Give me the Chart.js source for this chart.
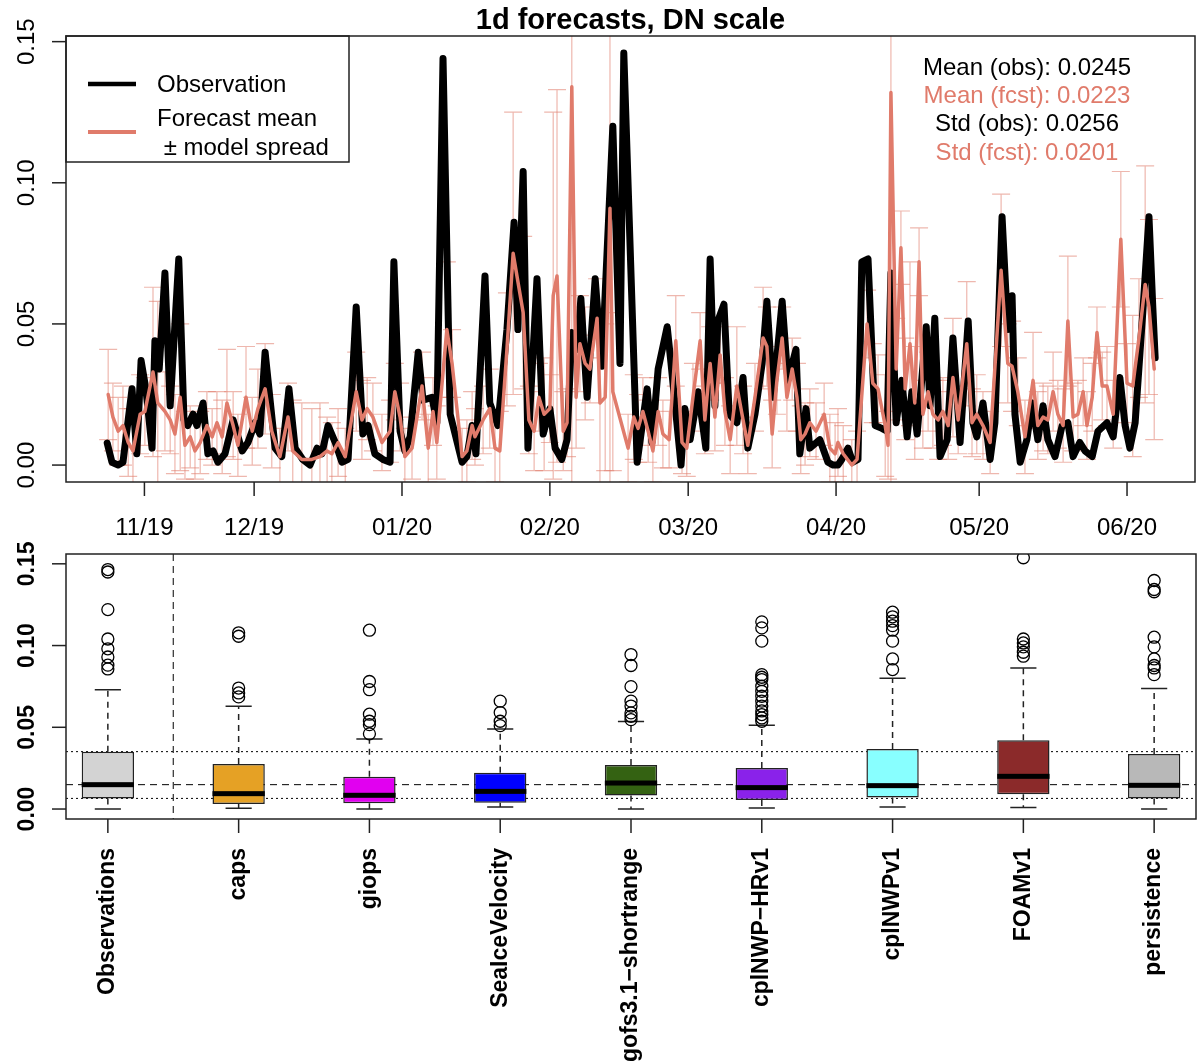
<!DOCTYPE html>
<html>
<head>
<meta charset="utf-8">
<script src="https://cdn.jsdelivr.net/npm/chart.js@4.4.1/dist/chart.umd.min.js"></script>
<style>
  body { margin: 0; background: #fff; }
  #topChart { position: absolute; left: 0; top: 0; }
  #boxChart { position: absolute; left: 0; top: 540px; }
</style>
</head>
<body>
<canvas id="topChart" width="1204" height="540"></canvas>
<canvas id="boxChart" width="1204" height="521"></canvas>
<script>
// ---- time series data (days relative to 2020-01-01) ----
const obsDay = [
  -61.8,-60.8,-59.5,-58.5,-56.6,-55.6,-54.7,-53.7,-52.4,-51.8,
  -50.9,-49.7,-48.6,-46.8,-45.7,-44.9,-43.8,-43.0,-41.7,-40.7,
  -39.6,-38.6,-37.1,-35.4,-33.5,-32.3,-30.8,-29.8,-28.7,-26.6,
  -25.2,-23.7,-22.4,-20.8,-19.3,-17.8,-16.8,-15.5,-14.0,-12.6,
  -11.3,-9.6,-8.2,-7.1,-5.7,-4.0,-2.5,-1.7,-0.4,0.6,
  1.7,3.4,4.4,6.3,7.3,8.6,10.1,12.6,13.6,14.7,
  15.5,17.4,18.4,20.1,22.0,23.5,24.3,25.4,26.4,28.3,
  29.6,31.0,32.1,33.5,34.6,35.6,36.7,37.5,38.8,40.5,
  41.9,44.2,45.7,46.5,49.3,51.4,52.4,53.7,55.6,56.4,
  58.5,59.3,60.4,62.1,63.7,64.6,65.6,66.2,67.5,68.6,
  70.2,71.5,72.5,74.0,75.5,76.5,77.8,79.7,80.9,82.6,
  83.4,84.7,85.5,87.6,89.3,90.4,91.4,92.2,93.5,94.5,
  95.6,96.4,97.7,99.2,100.6,101.7,102.5,103.6,104.8,105.9,
  106.9,108.0,109.9,110.7,111.7,112.8,114.3,115.5,117.0,118.7,
  119.7,120.5,121.8,123.3,124.3,125.8,127.0,127.9,128.5,129.6,
  131.0,132.1,133.3,134.4,135.4,136.9,138.4,139.6,140.7,142.1,
  143.2,144.7,145.9,147.8,149.1,150.5,151.6,152.6,153.7,155.3,
  156.6,157.4,157.9
];
const obsVal = [
  .0078,.001,.000,.001,.027,.004,.037,.027,.006,.044,
  .034,.068,.021,.073,.016,.014,.018,.014,.022,.004,
  .005,.001,.004,.016,.005,.008,.015,.011,.040,.006,
  .003,.027,.006,.002,.000,.006,.004,.014,.008,.001,
  .002,.056,.011,.014,.004,.002,.001,.072,.012,.005,
  .010,.040,.023,.024,.015,.144,.018,.001,.003,.014,
  .004,.067,.022,.014,.048,.086,.048,.104,.006,.066,
  .011,.020,.006,.002,.009,.047,.041,.059,.024,.066,
  .035,.120,.036,.146,.001,.027,.008,.034,.049,.036,
  .000,.020,.009,.026,.006,.073,.021,.051,.057,.018,
  .015,.031,.006,.018,.036,.058,.024,.058,.030,.041,
  .004,.020,.006,.009,.001,.000,.000,.002,.006,.001,
  .002,.072,.073,.014,.013,.012,.068,.015,.030,.010,
  .026,.011,.049,.021,.052,.003,.009,.045,.008,.051,
  .015,.010,.022,.002,.015,.088,.048,.060,.018,.001,
  .009,.022,.009,.021,.009,.003,.014,.015,.003,.008,
  .005,.003,.012,.015,.010,.031,.014,.006,.015,.054,
  .088,.056,.038
];
const fcstDay = [
  -61.6,-60.6,-59.5,-58.5,-57.4,-56.4,-54.9,-53.9,-52.2,-51.2,
  -49.7,-48.6,-47.6,-46.5,-45.5,-44.4,-43.4,-42.3,-40.9,-39.8,
  -38.8,-37.7,-36.7,-35.4,-34.4,-32.7,-31.4,-30.2,-28.7,-27.3,
  -25.6,-23.9,-22.9,-21.0,-18.9,-17.2,-15.7,-14.7,-13.4,-11.9,
  -9.6,-8.4,-7.3,-6.1,-4.2,-2.5,-1.5,-0.4,0.6,2.1,
  4.2,5.5,6.5,7.3,9.4,10.5,12.6,13.6,14.7,15.3,
  17.0,18.4,19.5,20.5,22.0,23.3,25.4,26.6,27.7,28.7,
  29.8,31.0,31.7,32.5,33.8,34.6,35.6,36.5,37.3,38.4,
  39.4,40.9,41.5,42.6,43.6,44.2,47.4,48.6,49.5,50.5,
  51.6,52.6,53.7,54.7,56.0,57.4,58.7,59.7,61.0,62.5,
  63.5,64.6,65.6,66.7,67.7,68.8,70.2,71.5,72.5,74.0,
  75.7,76.5,77.6,78.6,79.7,80.7,81.8,82.8,83.6,84.5,
  85.5,86.8,88.5,89.7,90.8,91.4,92.5,94.3,95.4,97.5,
  98.7,99.8,101.3,101.9,102.5,103.6,104.6,105.5,106.5,107.5,
  108.4,109.2,110.3,111.3,112.4,113.4,114.5,115.5,116.6,118.4,
  119.5,120.5,121.8,123.3,125.6,127.0,127.9,129.1,130.6,132.3,
  133.3,134.4,135.4,136.5,137.5,138.6,139.6,140.7,141.7,142.8,
  143.6,144.7,145.7,146.8,147.8,149.1,150.7,152.0,153.2,154.5,
  155.8,156.6,157.7
];
const fcstMean = [
  .025,.017,.012,.014,.008,.005,.018,.019,.033,.022,
  .019,.016,.011,.024,.007,.010,.005,.008,.014,.010,
  .015,.010,.022,.014,.007,.024,.012,.020,.027,.012,
  .003,.017,.005,.002,.002,.003,.005,.004,.008,.003,
  .026,.016,.020,.017,.008,.012,.026,.017,.003,.006,
  .028,.006,.019,.008,.048,.036,.003,.005,.014,.010,
  .016,.020,.006,.005,.041,.075,.054,.016,.012,.024,
  .018,.020,.060,.067,.012,.015,.134,.024,.043,.036,
  .034,.052,.022,.024,.091,.026,.006,.017,.013,.019,
  .012,.005,.019,.011,.009,.044,.008,.006,.024,.044,
  .016,.036,.017,.039,.019,.009,.028,.016,.007,.024,
  .045,.042,.011,.030,.045,.024,.034,.024,.009,.011,
  .015,.012,.018,.006,.004,.008,.004,.000,.002,.050,
  .029,.027,.014,.007,.132,.034,.077,.027,.043,.022,
  .072,.018,.026,.018,.016,.019,.014,.031,.016,.043,
  .015,.018,.014,.008,.069,.036,.035,.026,.010,.030,
  .014,.017,.016,.026,.018,.014,.051,.017,.018,.026,
  .014,.024,.047,.028,.028,.018,.080,.029,.028,.045,
  .064,.056,.034
];
const fcstSpread = [
  .016,.012,.012,.014,.012,.015,.014,.012,.030,.036,
  .014,.012,.014,.026,.012,.011,.010,.011,.012,.010,
  .011,.013,.019,.012,.011,.018,.012,.014,.016,.013,
  .010,.012,.018,.020,.018,.019,.012,.011,.012,.010,
  .014,.014,.011,.012,.010,.011,.010,.012,.010,.011,
  .012,.012,.012,.013,.024,.012,.010,.011,.012,.010,
  .012,.014,.012,.014,.020,.050,.027,.012,.014,.012,
  .020,.012,.065,.066,.014,.012,.150,.018,.017,.020,
  .012,.014,.030,.026,.110,.028,.012,.015,.012,.012,
  .011,.011,.012,.012,.010,.016,.011,.010,.012,.010,
  .012,.013,.012,.010,.012,.012,.021,.012,.010,.012,
  .018,.014,.012,.012,.011,.012,.011,.012,.012,.011,
  .012,.010,.011,.012,.011,.012,.010,.009,.010,.012,
  .014,.012,.018,.012,.150,.018,.013,.018,.029,.020,
  .012,.012,.014,.012,.014,.012,.012,.021,.012,.022,
  .012,.014,.012,.011,.027,.014,.016,.012,.013,.017,
  .012,.012,.012,.014,.012,.013,.023,.012,.012,.012,
  .012,.012,.009,.012,.014,.012,.024,.014,.025,.021,
  .042,.031,.025
];
const tickDays = [-54, -31, 0, 31, 60, 91, 121, 152];
const tickLabels = ['11/19', '12/19', '01/20', '02/20', '03/20', '04/20', '05/20', '06/20'];
const yTicks = [0, 0.05, 0.10, 0.15];
const statLines = ['Mean (obs): 0.0245', 'Mean (fcst): 0.0223', 'Std (obs): 0.0256', 'Std (fcst): 0.0201'];

// ---- box plot data ----
const models = ['Observations', 'caps', 'giops', 'SeaIceVelocity', 'gofs3.1\u2212shortrange',
  'cplNWP\u2212HRv1', 'cplNWPv1', 'FOAMv1', 'persistence'];
const boxLow = [0.000, 0.0004, 0.000, 0.0012, 0.000, 0.0006, 0.0012, 0.001, 0.000];
const boxQ1 = [0.0065, 0.003, 0.0035, 0.0039, 0.0082, 0.0055, 0.0071, 0.009, 0.0065];
const boxMed = [0.0149, 0.0094, 0.0084, 0.0108, 0.0159, 0.0131, 0.0143, 0.020, 0.0145];
const boxQ3 = [0.0351, 0.0276, 0.0198, 0.0222, 0.0269, 0.0251, 0.0367, 0.042, 0.0337];
const boxHigh = [0.073, 0.0629, 0.0429, 0.049, 0.0535, 0.0512, 0.080, 0.0863, 0.0737];
const outObs = [0.1465, 0.145, 0.122, 0.104, 0.098, 0.093, 0.088, 0.0857];
const outCaps = [0.1078, 0.1057, 0.074, 0.071, 0.0686];
const outGiops = [0.1094, 0.078, 0.073, 0.058, 0.0537, 0.0516, 0.046];
const outSiv = [0.066, 0.059, 0.0537, 0.051];
const outGofs = [0.0945, 0.0878, 0.0749, 0.066, 0.063, 0.0588, 0.0567, 0.0547];
const outHr = [0.1145, 0.1108, 0.1027, 0.0822, 0.0806, 0.0792, 0.0751, 0.072, 0.069, 0.066, 0.063, 0.060, 0.0578, 0.0557, 0.0537];
const outNwp = [0.1204, 0.1176, 0.1149, 0.1122, 0.1094, 0.1027, 0.0918, 0.0853];
const outFoam = [0.1537, 0.104, 0.1016, 0.0992, 0.0959, 0.0935];
const outPers = [0.1398, 0.1343, 0.1329, 0.1051, 0.0992, 0.0918, 0.0878, 0.0863, 0.0822];
const boxColors = ['#D3D3D3', '#E5A125', '#E100F0', '#0000FF', '#346212', '#8A22EA', '#88FFFF', '#8B2A2A', '#B8B8B8'];

const SALMON = '#E07B6B';
const FONT = '"Liberation Sans", Arial, Helvetica, sans-serif';

function rotText(ctx, text, x, y, align) {
  ctx.save();
  ctx.translate(x, y);
  ctx.rotate(-Math.PI / 2);
  ctx.textAlign = align;
  ctx.fillText(text, 0, 0);
  ctx.restore();
}

// error bars + axes + legend for the time series panel
const topDecor = {
  id: 'topDecor',
  beforeDatasetsDraw(chart) {
    const { ctx, chartArea: a, scales: { x, y } } = chart;
    ctx.save();
    ctx.beginPath();
    ctx.rect(a.left, a.top, a.right - a.left, a.bottom - a.top);
    ctx.clip();
    ctx.strokeStyle = 'rgba(224,123,107,0.55)';
    ctx.lineWidth = 1.2;
    for (let i = 0; i < fcstDay.length; i++) {
      const px = x.getPixelForValue(fcstDay[i]);
      const hi = y.getPixelForValue(fcstMean[i] + fcstSpread[i]);
      const lo = y.getPixelForValue(fcstMean[i] - fcstSpread[i]);
      ctx.beginPath();
      ctx.moveTo(px, hi); ctx.lineTo(px, lo);
      ctx.moveTo(px - 9, hi); ctx.lineTo(px + 9, hi);
      ctx.moveTo(px - 9, lo); ctx.lineTo(px + 9, lo);
      ctx.stroke();
    }
    ctx.restore();
  },
  afterDraw(chart) {
    const { ctx, chartArea: a, scales: { x, y } } = chart;
    ctx.save();
    ctx.strokeStyle = '#222';
    ctx.fillStyle = '#000';
    ctx.lineWidth = 1.5;
    ctx.strokeRect(a.left, a.top, a.right - a.left, a.bottom - a.top);

    ctx.font = '24px ' + FONT;
    ctx.textBaseline = 'alphabetic';
    yTicks.forEach(v => {
      const py = y.getPixelForValue(v);
      ctx.beginPath(); ctx.moveTo(a.left - 14, py); ctx.lineTo(a.left, py); ctx.stroke();
      rotText(ctx, v.toFixed(2), a.left - 32, py, 'center');
    });
    ctx.textAlign = 'center';
    ctx.textBaseline = 'middle';
    tickDays.forEach((d, i) => {
      const px = x.getPixelForValue(d);
      ctx.beginPath(); ctx.moveTo(px, a.bottom); ctx.lineTo(px, a.bottom + 14); ctx.stroke();
      ctx.fillText(tickLabels[i], px, a.bottom + 46);
    });

    // title
    ctx.font = 'bold 29px ' + FONT;
    ctx.fillText('1d forecasts, DN scale', (a.left + a.right) / 2, 21);

    // legend
    ctx.lineWidth = 1.5;
    ctx.strokeRect(a.left, a.top, 283, 126);
    ctx.lineCap = 'butt';
    ctx.lineWidth = 4.5;
    ctx.strokeStyle = '#000';
    ctx.beginPath(); ctx.moveTo(a.left + 22, a.top + 48); ctx.lineTo(a.left + 70, a.top + 48); ctx.stroke();
    ctx.lineWidth = 4;
    ctx.strokeStyle = SALMON;
    ctx.beginPath(); ctx.moveTo(a.left + 22, a.top + 96); ctx.lineTo(a.left + 70, a.top + 96); ctx.stroke();
    ctx.font = '24px ' + FONT;
    ctx.textAlign = 'left';
    ctx.fillStyle = '#000';
    ctx.fillText('Observation', a.left + 91, a.top + 49);
    ctx.fillText('Forecast mean', a.left + 91, a.top + 83);
    ctx.fillText(' \u00B1 model spread', a.left + 91, a.top + 112);

    // summary statistics
    ctx.textAlign = 'center';
    statLines.forEach((s, i) => {
      ctx.fillStyle = i % 2 === 0 ? '#000' : SALMON;
      ctx.fillText(s, 1027, a.top + 32 + i * 28.3);
    });
    ctx.restore();
  }
};

new Chart(document.getElementById('topChart'), {
  type: 'line',
  data: {
    datasets: [
      {
        label: 'Forecast mean',
        data: fcstDay.map((d, i) => ({ x: d, y: fcstMean[i] })),
        borderColor: SALMON,
        borderWidth: 3.5,
        pointRadius: 0,
        tension: 0,
        borderJoinStyle: 'round',
        borderCapStyle: 'round'
      },
      {
        label: 'Observation',
        data: obsDay.map((d, i) => ({ x: d, y: obsVal[i] })),
        borderColor: '#000',
        borderWidth: 7,
        pointRadius: 0,
        tension: 0,
        borderJoinStyle: 'round',
        borderCapStyle: 'round'
      }
    ]
  },
  options: {
    responsive: false,
    animation: false,
    layout: { padding: { left: 66, right: 9, top: 36, bottom: 58 } },
    plugins: { legend: { display: false }, tooltip: { enabled: false } },
    scales: {
      x: { type: 'linear', min: -70.44, max: 166.25, display: false },
      y: { min: -0.006, max: 0.152, display: false }
    }
  },
  plugins: [topDecor]
});

// ---- box plot panel ----
const allOutliers = [outObs, outCaps, outGiops, outSiv, outGofs, outHr, outNwp, outFoam, outPers];
const outlierPoints = [];
allOutliers.forEach((arr, i) => arr.forEach(v => outlierPoints.push({ x: i + 1, y: v })));

const boxDecor = {
  id: 'boxDecor',
  beforeDatasetsDraw(chart) {
    const { ctx, chartArea: a, scales: { x, y } } = chart;
    ctx.save();
    ctx.strokeStyle = '#000';
    ctx.lineWidth = 1;
    // reference lines from the observation box
    [[boxQ3[0], [2, 3]], [boxMed[0], [7, 5]], [boxQ1[0], [2, 3]]].forEach(([v, dash]) => {
      const py = y.getPixelForValue(v);
      ctx.setLineDash(dash);
      ctx.beginPath(); ctx.moveTo(a.left, py); ctx.lineTo(a.right, py); ctx.stroke();
    });
    const sx = x.getPixelForValue(1.5);
    ctx.setLineDash([7, 5]);
    ctx.beginPath(); ctx.moveTo(sx, a.top); ctx.lineTo(sx, a.bottom); ctx.stroke();

    // whiskers
    ctx.lineWidth = 1.5;
    ctx.strokeStyle = '#222';
    for (let i = 0; i < models.length; i++) {
      const px = x.getPixelForValue(i + 1);
      ctx.setLineDash([6, 5]);
      ctx.beginPath();
      ctx.moveTo(px, y.getPixelForValue(boxQ3[i])); ctx.lineTo(px, y.getPixelForValue(boxHigh[i]));
      ctx.moveTo(px, y.getPixelForValue(boxQ1[i])); ctx.lineTo(px, y.getPixelForValue(boxLow[i]));
      ctx.stroke();
      ctx.setLineDash([]);
      ctx.beginPath();
      const hw = (x.getPixelForValue(1.1) - x.getPixelForValue(1)) ;
      [boxHigh[i], boxLow[i]].forEach(v => {
        const py = y.getPixelForValue(v);
        ctx.moveTo(px - hw, py); ctx.lineTo(px + hw, py);
      });
      ctx.stroke();
    }
    ctx.restore();
  },
  afterDatasetsDraw(chart) {
    const { ctx, chartArea: a, scales: { x, y } } = chart;
    ctx.save();
    ctx.fillStyle = '#000';
    const hw = x.getPixelForValue(1.2) - x.getPixelForValue(1);
    for (let i = 0; i < models.length; i++) {
      const px = x.getPixelForValue(i + 1);
      const py = y.getPixelForValue(boxMed[i]);
      ctx.fillRect(px - hw, py - 2.5, hw * 2, 5);
    }
    ctx.restore();
  },
  afterDraw(chart) {
    const { ctx, chartArea: a, scales: { x, y } } = chart;
    ctx.save();
    ctx.strokeStyle = '#222';
    ctx.fillStyle = '#000';
    ctx.lineWidth = 1.5;
    ctx.strokeRect(a.left, a.top, a.right - a.left, a.bottom - a.top);
    ctx.font = 'bold 23px ' + FONT;
    yTicks.forEach(v => {
      const py = y.getPixelForValue(v);
      ctx.beginPath(); ctx.moveTo(a.left - 14, py); ctx.lineTo(a.left, py); ctx.stroke();
      rotText(ctx, v.toFixed(2), a.left - 32, py, 'center');
    });
    ctx.textBaseline = 'middle';
    models.forEach((m, i) => {
      const px = x.getPixelForValue(i + 1);
      ctx.beginPath(); ctx.moveTo(px, a.bottom); ctx.lineTo(px, a.bottom + 14); ctx.stroke();
      rotText(ctx, m, px, a.bottom + 29, 'right');
    });
    ctx.restore();
  }
};

new Chart(document.getElementById('boxChart'), {
  type: 'bar',
  data: {
    datasets: [
      {
        type: 'bar',
        label: 'IQR',
        data: models.map((m, i) => ({ x: i + 1, y: [boxQ1[i], boxQ3[i]] })),
        backgroundColor: boxColors,
        borderColor: '#222',
        borderWidth: 1.5,
        borderSkipped: false,
        categoryPercentage: 1,
        barPercentage: 0.4
      },
      {
        type: 'scatter',
        label: 'outliers',
        data: outlierPoints,
        pointRadius: 6,
        pointBorderWidth: 1.3,
        pointBackgroundColor: 'rgba(0,0,0,0)',
        pointBorderColor: '#000'
      }
    ]
  },
  options: {
    responsive: false,
    animation: false,
    layout: { padding: { left: 66, right: 8, top: 14, bottom: 242 } },
    plugins: { legend: { display: false }, tooltip: { enabled: false } },
    scales: {
      x: { type: 'linear', min: 0.68, max: 9.32, offset: false, display: false },
      y: { min: -0.0061, max: 0.156, display: false }
    }
  },
  plugins: [boxDecor]
});
</script>
</body>
</html>
